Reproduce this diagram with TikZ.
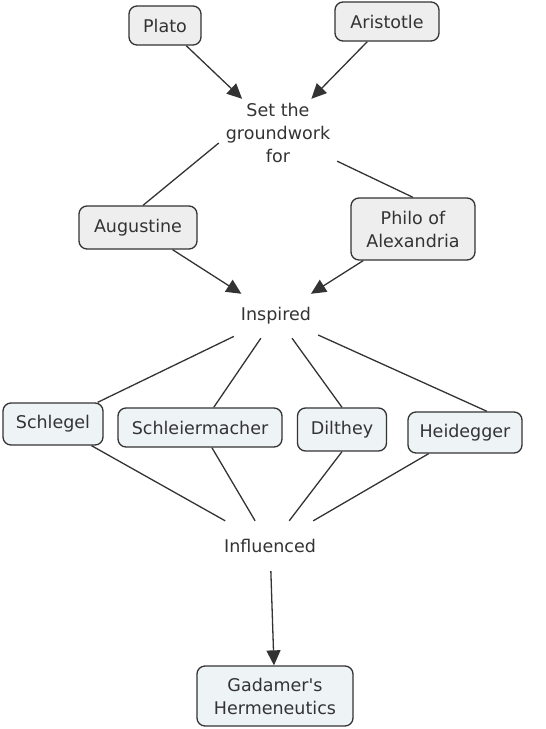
\documentclass[tikz,border=0pt]{standalone}
\usepackage{fontspec}
\setmainfont{DejaVu Sans}[Ligatures=TeXOff]
\usetikzlibrary{arrows.meta}
\definecolor{ink}{HTML}{333333}
\definecolor{grayfill}{HTML}{EEEEEE}
\definecolor{bluefill}{HTML}{EEF3F6}
\begin{document}
\begin{tikzpicture}[x=1pt,y=-1pt,
  every node/.style={text=ink, font=\fontsize{17.5}{23}\selectfont, align=center, inner sep=0pt},
  concept/.style={draw=ink, line width=1.3pt, rounded corners=8pt},
  grayc/.style={concept, fill=grayfill},
  bluec/.style={concept, fill=bluefill},
  link/.style={draw=ink, line width=1.3pt},
  arr/.style={link, -{Triangle[length=15pt,width=14pt]}}]
\useasboundingbox (0,0) rectangle (546,729);
% concepts
\node[grayc, minimum width=72pt, minimum height=39pt] (plato) at (165,25.5) {Plato};
\node[grayc, minimum width=104pt, minimum height=39pt] (arist) at (387,21.5) {Aristotle};
\node[grayc, minimum width=118pt, minimum height=43pt] (aug) at (138,227.5) {Augustine};
\node[grayc, minimum width=124pt, minimum height=62pt] (phi) at (413,229) {Philo of\\Alexandria};
\node[bluec, minimum width=100pt, minimum height=42pt] (schl) at (53,424) {Schlegel};
\node[bluec, minimum width=164pt, minimum height=39pt] (schm) at (200,427.5) {Schleiermacher};
\node[bluec, minimum width=89pt, minimum height=43pt] (dil) at (342,429.5) {Dilthey};
\node[bluec, minimum width=114pt, minimum height=41pt] (heid) at (465,432.5) {Heidegger};
\node[bluec, minimum width=156pt, minimum height=60pt] (gad) at (275,696) {Gadamer's\\Hermeneutics};
% linking phrases
\node[minimum width=118pt, minimum height=68pt] (set) at (278,133) {Set the\\groundwork\\for};
\node[minimum width=84pt, minimum height=44pt] (insp) at (276,316) {Inspired};
\node[minimum width=100pt, minimum height=50pt] (infl) at (270,546) {Influenced};
% connectors
\draw[arr] (plato) -- (set);
\draw[arr] (arist) -- (set);
\draw[link] ([yshift=-10pt]set.west) -- ([xshift=5pt]aug.north);
\draw[link] ([yshift=6pt]set.south east) -- (phi.north);
\draw[arr] (aug) -- (insp);
\draw[arr] (phi) -- (insp);
\draw[link] (insp) -- (schl);
\draw[link] (insp) -- (schm);
\draw[link] (insp) -- (dil.north);
\draw[link] (insp) -- ([xshift=22pt]heid.north);
\draw[link] (schl) -- (infl);
\draw[link] (schm) -- (infl);
\draw[link] (dil.south) -- (infl);
\draw[link] (heid) -- (infl);
\draw[arr] (infl) -- (gad);
\end{tikzpicture}
\end{document}
